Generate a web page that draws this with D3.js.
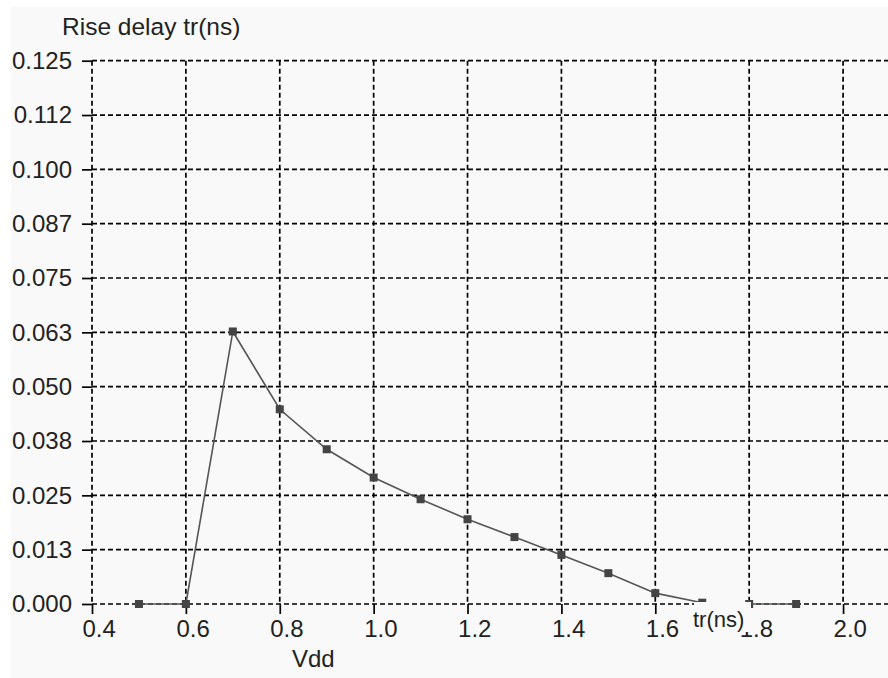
<!DOCTYPE html>
<html>
<head>
<meta charset="utf-8">
<script src="https://cdn.jsdelivr.net/npm/d3@7"></script>
<style>
  body { margin: 0; background: #ffffff; }
  text { font-family: "Liberation Sans", Arial, sans-serif; fill: #222; }
</style>
</head>
<body>
<div id="chart"></div>
<script>
// Data.
var vdd = [0.5, 0.6, 0.7, 0.8, 0.9, 1.0, 1.1, 1.2, 1.3, 1.4, 1.5, 1.6, 1.7, 1.8, 1.9];
var riseDelay = [0, 0, 0.0627, 0.0448, 0.0356, 0.0291, 0.0241, 0.0195, 0.0154, 0.0113, 0.0071, 0.0025, 0.0003, 0, 0];

var xTicks = [0.4, 0.6, 0.8, 1.0, 1.2, 1.4, 1.6, 1.8, 2.0];
var xTickLabels = ['0.4', '0.6', '0.8', '1.0', '1.2', '1.4', '1.6', '1.8', '2.0'];
var yTicks = [0, 0.0125, 0.025, 0.0375, 0.05, 0.0625, 0.075, 0.0875, 0.1, 0.1125, 0.125];
var yTickLabels = ['0.000', '0.013', '0.025', '0.038', '0.050', '0.063', '0.075', '0.087', '0.100', '0.112', '0.125'];

var width = 888,
    height = 678;

var svg = d3.select('#chart')
    .append('svg')
        .attr('width', width)
        .attr('height', height);

// Light grey panel, leaving a thin white strip on top and left.
svg.append('rect')
    .attr('x', 11)
    .attr('y', 7)
    .attr('width', width - 11)
    .attr('height', height - 7)
    .attr('fill', '#f9f9f9');

var x = d3.scaleLinear()
    .domain([0.4, 2.1])
    .range([92, 890]);

var y = d3.scaleLinear()
    .domain([0, 0.125])
    .range([604, 60.7]);

// Dashed grid.
svg.append('g')
    .selectAll('line')
    .data(yTicks)
    .enter().append('line')
        .attr('x1', x(0.4))
        .attr('x2', x(2.1))
        .attr('y1', function(d){ return y(d); })
        .attr('y2', function(d){ return y(d); })
        .attr('stroke', '#000')
        .attr('stroke-width', 1.7)
        .attr('stroke-dasharray', '5,3');

svg.append('g')
    .selectAll('line')
    .data(xTicks)
    .enter().append('line')
        .attr('x1', function(d){ return x(d); })
        .attr('x2', function(d){ return x(d); })
        .attr('y1', y(0.125))
        .attr('y2', y(0))
        .attr('stroke', '#000')
        .attr('stroke-width', 1.7)
        .attr('stroke-dasharray', '5,3');

// Axes: only the short solid ticks and the labels.
var xAxisCall = d3.axisBottom(x)
    .tickValues(xTicks)
    .tickSize(10)
    .tickFormat(function(d, i){ return xTickLabels[i]; });

var yAxisCall = d3.axisLeft(y)
    .tickValues(yTicks)
    .tickSize(10)
    .tickFormat(function(d, i){ return yTickLabels[i]; });

var xAxis = svg.append('g')
    .attr('transform', 'translate(0, ' + y(0) + ')')
    .call(xAxisCall);
xAxis.select('.domain').remove();
xAxis.selectAll('line').attr('stroke', '#000').attr('stroke-width', 1.7);
xAxis.selectAll('text')
    .attr('text-anchor', 'start')
    .attr('x', -10)
    .attr('y', 0)
    .attr('dy', null)
    .attr('transform', 'translate(0, 33)')
    .style('font-size', '24px');

var yAxis = svg.append('g')
    .attr('transform', 'translate(' + x(0.4) + ', 0)')
    .call(yAxisCall);
yAxis.select('.domain').remove();
yAxis.selectAll('line').attr('stroke', '#000').attr('stroke-width', 1.7);
yAxis.selectAll('text')
    .attr('x', -20)
    .style('font-size', '24px');

// The series.
var points = vdd.map(function(v, i){ return [v, riseDelay[i]]; });

var line = d3.line()
    .x(function(d){ return x(d[0]); })
    .y(function(d){ return y(d[1]); });

svg.append('path')
    .datum(points)
    .attr('d', line)
    .attr('fill', 'none')
    .attr('stroke', '#555')
    .attr('stroke-width', 1.6);

svg.selectAll('rect.marker')
    .data(points)
    .enter().append('rect')
        .attr('class', 'marker')
        .attr('x', function(d){ return x(d[0]) - 4; })
        .attr('y', function(d){ return y(d[1]) - 4; })
        .attr('width', 8)
        .attr('height', 8)
        .attr('fill', '#444');

// Title and axis names.
svg.append('text')
    .attr('x', 62)
    .attr('y', 35)
    .style('font-size', '24.5px')
    .text('Rise delay tr(ns)');

svg.append('text')
    .attr('x', 292)
    .attr('y', 667)
    .style('font-size', '24px')
    .text('Vdd');

// The second x-axis name sits on an opaque box that hides what is behind it.
svg.append('rect')
    .attr('x', 694)
    .attr('y', 602)
    .attr('width', 57)
    .attr('height', 30)
    .attr('fill', '#f9f9f9');

svg.append('text')
    .attr('x', 693)
    .attr('y', 627)
    .style('font-size', '22px')
    .text('tr(ns)');
</script>
</body>
</html>
